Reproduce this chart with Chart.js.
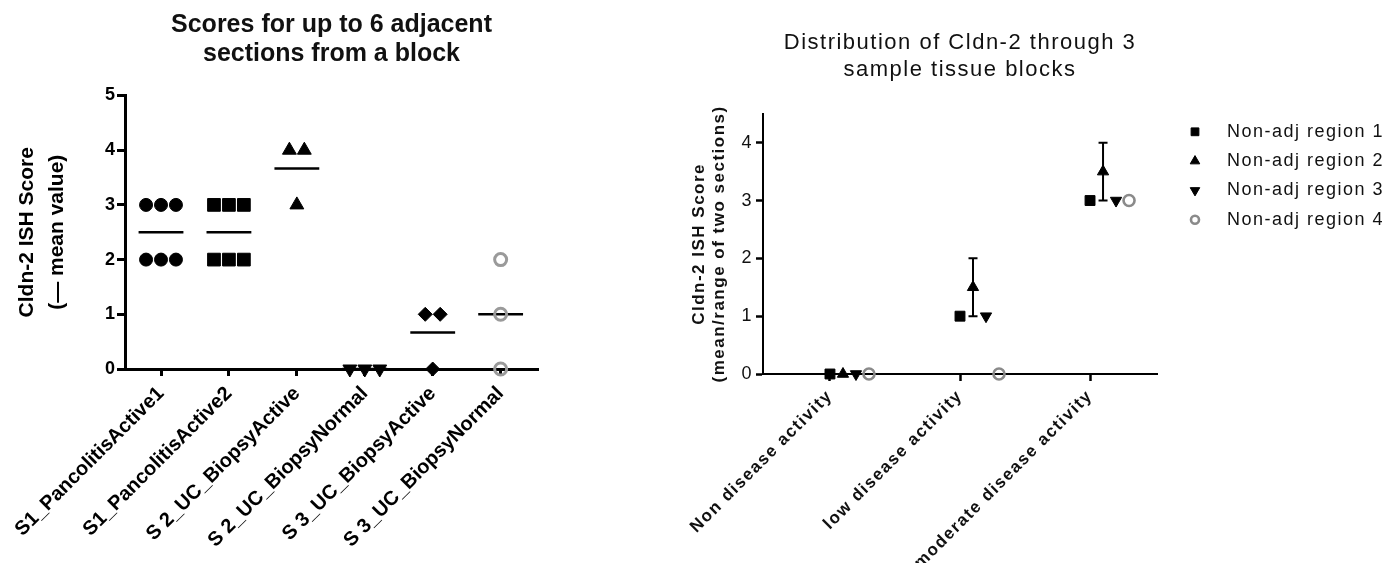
<!DOCTYPE html>
<html>
<head>
<meta charset="utf-8">
<title>Cldn-2 ISH scores</title>
<script src="https://cdn.jsdelivr.net/npm/chart.js"></script>
<style>
  html, body { margin: 0; padding: 0; background: #fff; }
  #page { position: relative; width: 1400px; height: 563px; overflow: hidden; }
  #leftChart { position: absolute; left: 0; top: 0; }
  #rightChart { position: absolute; left: 620px; top: 0; }
</style>
</head>
<body>
<div id="page">
  <canvas id="leftChart" width="620" height="563"></canvas>
  <canvas id="rightChart" width="780" height="563"></canvas>
</div>
<script>
(function () {
    "use strict";

    // Left chart data: scores per section
    var sectionLabels = ['S1_PancolitisActive1', 'S1_PancolitisActive2', 'S 2_UC_BiopsyActive',
        'S 2_UC_BiopsyNormal', 'S 3_UC_BiopsyActive', 'S 3_UC_BiopsyNormal'];
    var pancolitisActive1 = [3, 3, 3, 2, 2, 2];
    var pancolitisActive2 = [3, 3, 3, 2, 2, 2];
    var s2BiopsyActive = [4, 4, 3];
    var s2BiopsyNormal = [0, 0, 0];
    var s3BiopsyActive = [1, 1, 0];
    var s3BiopsyNormal = [2, 1, 0];
    var leftYTicks = [0, 1, 2, 3, 4, 5];

    // Right chart data: mean / range per disease activity
    var activityLabels = ['Non disease activity', 'low disease activity', 'moderate disease activity'];
    var regionNames = ['Non-adj region 1', 'Non-adj region 2', 'Non-adj region 3', 'Non-adj region 4'];
    var region1 = [0, 1, 3];
    var region2 = [0, 1.5, 3.5];
    var region2Low = [0, 1, 3];
    var region2High = [0, 2, 4];
    var region3 = [0, 1, 3];
    var region4 = [0, 0, 3];
    var rightYTicks = [0, 1, 2, 3, 4];

    Chart.defaults.font.family = "'Liberation Sans', Arial, sans-serif";
    Chart.defaults.color = '#000';

    // spread equal values side by side inside a category
    function spread(values, index, step) {
        return values.map(function (v, k) {
            var same = values.filter(function (w) { return w === v; }).length;
            var pos = values.slice(0, k).filter(function (w) { return w === v; }).length;
            return { x: index + (pos - (same - 1) / 2) * step, y: v };
        });
    }

    function mean(values) {
        return values.reduce(function (a, b) { return a + b; }, 0) / values.length;
    }

    // Left chart
    var leftGroups = [pancolitisActive1, pancolitisActive2, s2BiopsyActive, s2BiopsyNormal, s3BiopsyActive, s3BiopsyNormal];
    var leftMarks = [
        { pointStyle: 'circle', radius: 6.5 },
        { pointStyle: 'rect', radius: 9 },
        { pointStyle: 'triangle', radius: 8 },
        { pointStyle: 'triangle', radius: 8, rotation: 180 },
        { pointStyle: 'rectRot', radius: 7 },
        { pointStyle: 'circle', radius: 6, hollow: true }
    ];

    var leftDatasets = leftGroups.map(function (values, i) {
        var m = leftMarks[i];
        return {
            label: sectionLabels[i],
            data: spread(values, i, 0.22),
            pointStyle: m.pointStyle,
            pointRadius: m.radius,
            pointRotation: m.rotation || 0,
            backgroundColor: m.hollow ? 'rgba(0,0,0,0)' : '#000',
            borderColor: m.hollow ? '#9a9a9a' : '#000',
            borderWidth: m.hollow ? 3 : 1,
            clip: false
        };
    });
    leftGroups.forEach(function (values, i) {
        var avg = mean(values);
        leftDatasets.push({
            label: 'mean ' + sectionLabels[i],
            data: [{ x: i - 0.33, y: avg }, { x: i + 0.33, y: avg }],
            showLine: true,
            pointRadius: 0,
            borderColor: '#000',
            borderWidth: 2.5,
            clip: false
        });
    });

    new Chart(document.getElementById('leftChart'), {
        type: 'scatter',
        data: { datasets: leftDatasets },
        options: {
            responsive: false,
            animation: false,
            layout: { padding: { top: 0, right: 82, bottom: 0, left: 0 } },
            plugins: {
                legend: { display: false },
                tooltip: { enabled: false },
                title: {
                    display: true,
                    fullSize: false,
                    text: ['Scores for up to 6 adjacent', 'sections from a block'],
                    color: '#111',
                    font: { size: 25, weight: 'bold', lineHeight: 1.15 },
                    padding: { top: 11, bottom: 27 }
                }
            },
            scales: {
                x: {
                    type: 'linear',
                    min: -0.53,
                    max: 5.55,
                    afterBuildTicks: function (s) {
                        s.ticks = sectionLabels.map(function (_, i) { return { value: i }; });
                    },
                    afterFit: function (s) { s.height = 194; },
                    ticks: {
                        callback: function (v) { return sectionLabels[v]; },
                        autoSkip: false,
                        minRotation: 45,
                        maxRotation: 45,
                        padding: 6,
                        color: '#000',
                        font: { size: 20, weight: 'bold' }
                    },
                    grid: { drawOnChartArea: false, tickLength: 7, tickWidth: 3, color: '#000' },
                    border: { width: 3, color: '#000' }
                },
                y: {
                    min: 0,
                    max: 5,
                    afterBuildTicks: function (s) {
                        s.ticks = leftYTicks.map(function (v) { return { value: v }; });
                    },
                    afterFit: function (s) { s.width = 125; },
                    ticks: { padding: 2, color: '#000', font: { size: 18, weight: 'bold' } },
                    grid: { drawOnChartArea: false, tickLength: 8, tickWidth: 3, color: '#000' },
                    border: { width: 3, color: '#000' },
                    title: {
                        display: true,
                        text: ['Cldn-2 ISH Score', '(\u2014 mean value)'],
                        color: '#000',
                        font: { size: 21, weight: 'bold', lineHeight: 1.4 },
                        padding: { top: 13, bottom: 0 }
                    }
                }
            }
        }
    });

    // Right chart
    var regionValues = [region1, region2, region3, region4];
    var regionMarks = [
        { pointStyle: 'rect', radius: 7 },
        { pointStyle: 'triangle', radius: 6.5 },
        { pointStyle: 'triangle', radius: 6.5, rotation: 180 },
        { pointStyle: 'circle', radius: 5.5, hollow: true }
    ];

    var rightDatasets = regionValues.map(function (values, r) {
        var m = regionMarks[r];
        return {
            label: regionNames[r],
            data: values.map(function (v, i) { return { x: i + r * 0.1, y: v }; }),
            pointStyle: m.pointStyle,
            pointRadius: m.radius,
            pointRotation: m.rotation || 0,
            backgroundColor: m.hollow ? 'rgba(0,0,0,0)' : '#000',
            borderColor: m.hollow ? '#8a8a8a' : '#000',
            borderWidth: m.hollow ? 2.6 : 1,
            clip: false
        };
    });
    rightDatasets[1].errorLow = region2Low;
    rightDatasets[1].errorHigh = region2High;

    var errorBars = {
        id: 'errorBars',
        beforeDatasetsDraw: function (chart) {
            var ctx = chart.ctx, xs = chart.scales.x, ys = chart.scales.y;
            ctx.save();
            ctx.strokeStyle = '#000';
            ctx.lineWidth = 2;
            chart.data.datasets.forEach(function (ds) {
                if (!ds.errorLow) return;
                ds.data.forEach(function (p, i) {
                    if (ds.errorLow[i] === ds.errorHigh[i]) return;
                    var x = xs.getPixelForValue(p.x);
                    var y1 = ys.getPixelForValue(ds.errorLow[i]);
                    var y2 = ys.getPixelForValue(ds.errorHigh[i]);
                    ctx.beginPath();
                    ctx.moveTo(x, y1); ctx.lineTo(x, y2);
                    ctx.moveTo(x - 4.5, y1); ctx.lineTo(x + 4.5, y1);
                    ctx.moveTo(x - 4.5, y2); ctx.lineTo(x + 4.5, y2);
                    ctx.stroke();
                });
            });
            ctx.restore();
        }
    };

    // legend at the right of the plot, with the dataset point styles
    var sideLegend = {
        id: 'sideLegend',
        afterDraw: function (chart) {
            var ctx = chart.ctx, area = chart.chartArea;
            ctx.save();
            ctx.font = "18px 'Liberation Sans', Arial, sans-serif";
            ctx.textBaseline = 'middle';
            ctx.textAlign = 'left';
            chart.data.datasets.forEach(function (ds, i) {
                var y = area.top + 18 + i * 29.3;
                var x = area.right + 38;
                ctx.fillStyle = ds.backgroundColor;
                ctx.strokeStyle = ds.borderColor;
                ctx.lineWidth = ds.borderWidth;
                Chart.helpers.drawPoint(ctx, {
                    pointStyle: ds.pointStyle,
                    rotation: ds.pointRotation,
                    radius: ds.pointStyle === 'circle' ? 4 : 5.5,
                    borderWidth: ds.borderWidth
                }, x, y);
                ctx.fillStyle = '#111';
                ctx.fillText(ds.label, area.right + 70, y);
            });
            ctx.restore();
        }
    };

    var spacedText = {
        id: 'spacedText',
        beforeLayout: function (chart) { chart.ctx.letterSpacing = '1.5px'; },
        beforeDraw: function (chart) { chart.ctx.letterSpacing = '1.5px'; }
    };

    new Chart(document.getElementById('rightChart'), {
        type: 'scatter',
        data: { datasets: rightDatasets },
        plugins: [spacedText, errorBars, sideLegend],
        options: {
            responsive: false,
            animation: false,
            layout: { padding: { top: 0, right: 243, bottom: 0, left: 0 } },
            plugins: {
                legend: { display: false },
                tooltip: { enabled: false },
                title: {
                    display: true,
                    fullSize: false,
                    text: ['Distribution of Cldn-2 through 3', 'sample tissue blocks'],
                    color: '#111',
                    font: { size: 22, weight: 'normal', lineHeight: 1.2 },
                    padding: { top: 30, bottom: 31 }
                }
            },
            scales: {
                x: {
                    type: 'linear',
                    min: -0.515,
                    max: 2.515,
                    afterBuildTicks: function (s) {
                        s.ticks = activityLabels.map(function (_, i) { return { value: i }; });
                    },
                    afterFit: function (s) { s.height = 189; },
                    ticks: {
                        callback: function (v) { return activityLabels[v]; },
                        autoSkip: false,
                        minRotation: 45,
                        maxRotation: 45,
                        padding: 5,
                        color: '#111',
                        font: { size: 17, weight: 'bold' }
                    },
                    grid: { drawOnChartArea: false, tickLength: 7, tickWidth: 2.5, color: '#000' },
                    border: { width: 2, color: '#000' }
                },
                y: {
                    min: 0,
                    max: 4.5,
                    afterBuildTicks: function (s) {
                        s.ticks = rightYTicks.map(function (v) { return { value: v }; });
                    },
                    afterFit: function (s) { s.width = 143; },
                    ticks: { padding: 3, color: '#111', font: { size: 18 } },
                    grid: { drawOnChartArea: false, tickLength: 7, tickWidth: 2.5, color: '#000' },
                    border: { width: 2, color: '#000' },
                    title: {
                        display: true,
                        text: ['Cldn-2 ISH Score', '(mean/range of two sections)'],
                        color: '#111',
                        font: { size: 17, weight: 'bold', lineHeight: 1.15 },
                        padding: { top: 70, bottom: 0 }
                    }
                }
            }
        }
    });
})();
</script>
</body>
</html>
